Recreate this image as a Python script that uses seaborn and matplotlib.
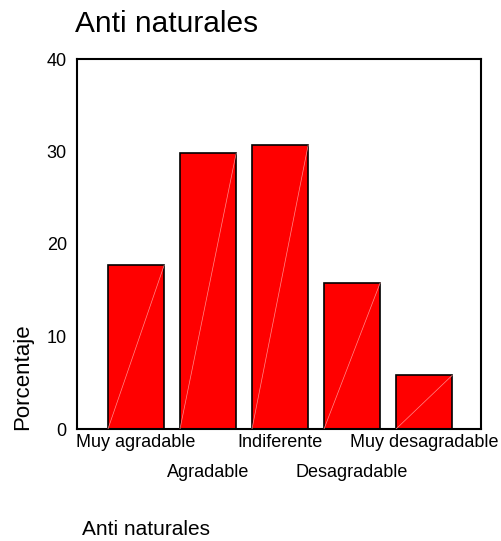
import numpy as np
import matplotlib.pyplot as plt
import seaborn as sns
import pandas as pd

categorias = ["Muy agradable", "Agradable", "Indiferente", "Desagradable", "Muy desagradable"]
porcentajes = [17.7, 29.8, 30.7, 15.8, 5.8]

sns.set_style('white')
plt.rcParams['font.family'] = ['Liberation Sans', 'DejaVu Sans']
for k in ['text.color', 'axes.labelcolor', 'xtick.color', 'ytick.color']:
    plt.rcParams[k] = 'black'

df = pd.DataFrame({"cat": categorias, "pct": porcentajes})

fig = plt.figure(figsize=(5.01, 5.41), dpi=100)
ax = fig.add_axes([77 / 501, 1 - 429 / 541, 404 / 501, 370 / 541])

sns.barplot(data=df, x="cat", y="pct", color="#ff0000", saturation=1,
            width=0.78, edgecolor="black", linewidth=1.2, ax=ax)

# linea diagonal tenue dentro de cada barra (como en SPSS)
for p in ax.patches:
    x0, y0 = p.get_x(), p.get_y()
    ax.plot([x0, x0 + p.get_width()], [y0, y0 + p.get_height()],
            color="#ff8c8c", lw=0.5, zorder=3)

ax.set_xlim(-0.82, 4.79)
ax.set_ylim(0, 40)
ax.set_yticks([0, 10, 20, 30, 40])
ax.set_xticks(range(len(categorias)))
ax.set_xticklabels(categorias)
ax.tick_params(axis='both', direction='out', length=3, width=1.2, labelsize=13)
ax.tick_params(axis='x', pad=0.5)
ax.tick_params(axis='y', pad=4.3)
# etiquetas alternas en dos filas
for i, t in enumerate(ax.xaxis.get_major_ticks()):
    if i % 2 == 1:
        t.set_pad(22.5)
for s in ax.spines.values():
    s.set_visible(True)
    s.set_color('black')
    s.set_linewidth(1.5)

ax.set_ylabel("Porcentaje", fontsize=16, loc='bottom')
ax.yaxis.set_label_coords(-0.109, -0.003)
ax.set_xlabel("Anti naturales", fontsize=15, loc='left')
ax.xaxis.label.set_va('baseline')
ax.xaxis.set_label_coords(0.012, -0.2865)
ax.set_title("Anti naturales", loc='left', fontsize=21.5, x=-0.005, y=1.073, pad=0)

plt.savefig('out.png', dpi=100)
